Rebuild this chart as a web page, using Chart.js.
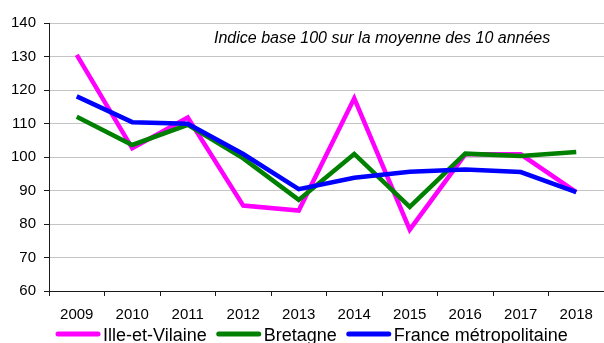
<!DOCTYPE html>
<html lang="fr">
<head>
<meta charset="utf-8">
<title>Indice base 100</title>
<script src="https://cdn.jsdelivr.net/npm/chart.js@4.4.1/dist/chart.umd.min.js"></script>
<style>
  html, body { margin: 0; padding: 0; background: #fff; overflow: hidden; }
  #wrap { position: relative; width: 604px; height: 343px; }
</style>
</head>
<body>
<div id="wrap"><canvas id="chart"></canvas></div>
<script>
// Années et indices (base 100 = moyenne des 10 années)
const years = ['2009', '2010', '2011', '2012', '2013', '2014', '2015', '2016', '2017', '2018'];
const illeEtVilaine = [130.5, 102.6, 111.8, 85.5, 84.0, 117.5, 78.3, 100.8, 100.8, 89.5];
const bretagne      = [112.0, 103.6, 109.6, 99.6, 87.2, 100.9, 85.1, 101.0, 100.3, 101.5];
const franceMetro   = [118.1, 110.4, 109.9, 100.9, 90.4, 93.8, 95.6, 96.3, 95.5, 89.5];
const yTicks = [60, 70, 80, 90, 100, 110, 120, 130, 140];
const noteText = 'Indice base 100 sur la moyenne des 10 années';

const FONT = "'Liberation Sans', Arial, sans-serif";
const AXIS_COLOR = '#1a1a1a';

// Note en italique dans la zone de tracé + légende en bas
const extras = {
  id: 'extras',
  afterDraw(chart) {
    const ctx = chart.ctx;
    const area = chart.chartArea;
    ctx.save();
    ctx.fillStyle = '#000';
    ctx.font = 'italic 16px ' + FONT;
    ctx.textAlign = 'left';
    ctx.textBaseline = 'middle';
    ctx.fillText(noteText, area.left + 165, area.top + 16);

    ctx.font = '18px ' + FONT;
    ctx.textBaseline = 'alphabetic';
    let x = 56;
    const lineY = 334;
    chart.data.datasets.forEach(ds => {
      ctx.strokeStyle = ds.borderColor;
      ctx.lineWidth = 5;
      ctx.lineCap = 'round';
      ctx.beginPath();
      ctx.moveTo(x + 2, lineY);
      ctx.lineTo(x + 42, lineY);
      ctx.stroke();
      x += 47;
      ctx.fillStyle = '#000';
      ctx.fillText(ds.label, x, 341);
      x += ctx.measureText(ds.label).width + 10;
    });
    ctx.restore();
  }
};

new Chart(document.getElementById('chart'), {
  type: 'line',
  data: {
    labels: years,
    datasets: [
      { label: 'Ille-et-Vilaine', data: illeEtVilaine, borderColor: '#ff00ff', order: 2 },
      { label: 'Bretagne', data: bretagne, borderColor: '#008000', order: 1 },
      { label: 'France métropolitaine', data: franceMetro, borderColor: '#0000ff', order: 0 }
    ]
  },
  options: {
    responsive: true,
    maintainAspectRatio: false,
    animation: false,
    devicePixelRatio: 1,
    layout: { padding: { top: 23, left: 0, right: 0, bottom: 0 } },
    elements: {
      line: { borderWidth: 4.5, tension: 0, fill: false },
      point: { radius: 0, hoverRadius: 0 }
    },
    plugins: {
      legend: { display: false },
      title: { display: false },
      tooltip: { enabled: false }
    },
    scales: {
      x: {
        type: 'category',
        offset: true,
        afterFit(scale) { scale.height = 52; },
        grid: {
          offset: true,
          drawOnChartArea: false,
          drawTicks: true,
          tickLength: 5,
          tickColor: AXIS_COLOR
        },
        border: { display: true, color: AXIS_COLOR, width: 1 },
        ticks: {
          color: '#000',
          font: { family: FONT, size: 15 },
          padding: 10,
          maxRotation: 0,
          autoSkip: false
        }
      },
      y: {
        min: yTicks[0],
        max: yTicks[yTicks.length - 1],
        afterFit(scale) { scale.width = 49; },
        afterBuildTicks(scale) { scale.ticks = yTicks.map(v => ({ value: v })); },
        grid: {
          color: '#c4c4c4',
          lineWidth: 1,
          drawTicks: true,
          tickLength: 5,
          tickColor: AXIS_COLOR
        },
        border: { display: true, color: AXIS_COLOR, width: 1 },
        ticks: {
          color: '#000',
          font: { family: FONT, size: 15 },
          padding: 8
        }
      }
    }
  },
  plugins: [extras]
});
</script>
</body>
</html>
